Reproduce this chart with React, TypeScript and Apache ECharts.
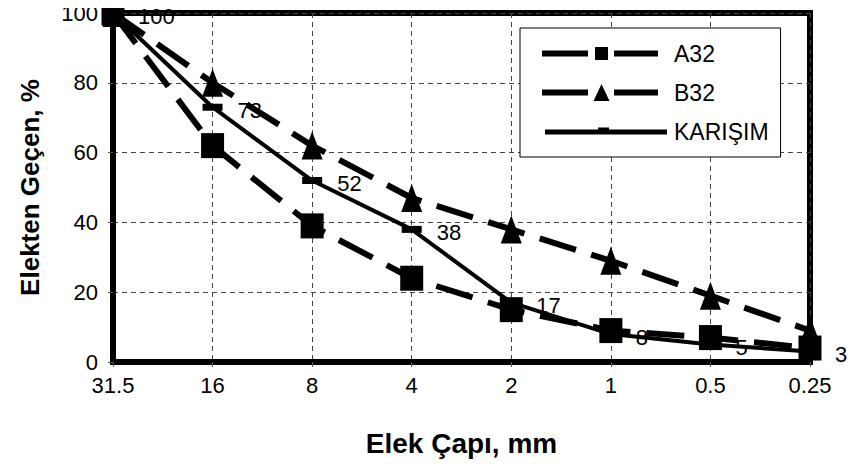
import React, { useEffect, useRef } from "react";
import * as echarts from "echarts";

const categories = ["31.5", "16", "8", "4", "2", "1", "0.5", "0.25"];
const a32 = [100, 62, 39, 24, 15, 9, 7, 4];
const b32 = [100, 80, 62, 47, 38, 29, 19, 9];
const karisim = [100, 73, 52, 38, 17, 8, 5, 3];
const yTicks = { min: 0, max: 100, interval: 20 };

const corners = "M0,0h0.1v0.1h-0.1Z M124.9,17.9h0.1v0.1h-0.1Z ";
const iconA = "path://" + corners + "M0,6H46V12H0Z M53,2.5H66V15.5H53Z M72,6H116V12H72Z";
const iconB = "path://" + corners + "M0,6H46V12H0Z M59.5,0.5L67.5,17.5H51.5Z M72,6H116V12H72Z";
const iconK = "path://" + corners + "M3,7H125V12H3Z M56,5H67V7H56Z";

export default function App() {
  const ref = useRef<HTMLDivElement>(null);
  useEffect(() => {
    if (!ref.current) return;
    const chart = echarts.init(ref.current, null, { renderer: "svg" });
    const font = "Liberation Sans, Arial, sans-serif";
    chart.setOption({
      animation: false,
      backgroundColor: "#ffffff",
      textStyle: { fontFamily: font, color: "#000" },
      grid: {
        left: 113,
        right: 45,
        top: 13,
        bottom: 106,
        show: true,
        borderColor: "#000",
        borderWidth: 6,
        backgroundColor: "transparent",
      },
      legend: {
        left: 520,
        top: 28,
        orient: "vertical",
        backgroundColor: "#fff",
        borderColor: "#000",
        borderWidth: 1,
        borderRadius: 0,
        padding: [14, 12, 14, 22],
        itemGap: 16,
        itemWidth: 125,
        itemHeight: 18,
        textStyle: { fontFamily: font, fontSize: 23, color: "#000", padding: [0, 0, 0, 2] },
        data: [
          { name: "A32", icon: iconA },
          { name: "B32", icon: iconB },
          { name: "KARIŞIM", icon: iconK },
        ],
      },
      xAxis: {
        type: "category",
        data: categories,
        boundaryGap: false,
        name: "Elek Çapı, mm",
        nameLocation: "middle",
        nameGap: 67,
        nameTextStyle: { fontFamily: font, fontSize: 28, fontWeight: "bold", color: "#000" },
        axisLine: { show: true, lineStyle: { color: "#000", width: 6 } },
        axisTick: { show: true, length: 5, lineStyle: { color: "#555", width: 1 } },
        axisLabel: { fontFamily: font, fontSize: 22, color: "#000", margin: 12 },
        splitLine: { show: true, lineStyle: { color: "#444", width: 1, type: [5, 4] } },
      },
      yAxis: {
        type: "value",
        min: yTicks.min,
        max: yTicks.max,
        interval: yTicks.interval,
        name: "Elekten Geçen, %",
        nameLocation: "middle",
        nameGap: 70,
        nameTextStyle: { fontFamily: font, fontSize: 26, fontWeight: "bold", color: "#000" },
        axisLine: { show: true, lineStyle: { color: "#000", width: 6 } },
        axisTick: { show: true, length: 5, lineStyle: { color: "#555", width: 1 } },
        axisLabel: { fontFamily: font, fontSize: 22, color: "#000", margin: 15 },
        splitLine: { show: true, lineStyle: { color: "#444", width: 1, type: [5, 4] } },
      },
      series: [
        {
          name: "A32",
          type: "line",
          data: a32,
          symbol: "rect",
          symbolSize: [23, 25],
          itemStyle: { color: "#000" },
          lineStyle: { color: "#000", width: 6, type: [38, 16] },
        },
        {
          name: "B32",
          type: "line",
          data: b32,
          symbol: "triangle",
          symbolSize: [21, 28],
          itemStyle: { color: "#000" },
          lineStyle: { color: "#000", width: 6, type: [38, 16] },
        },
        {
          name: "KARIŞIM",
          type: "line",
          data: karisim,
          symbol: "rect",
          symbolSize: [20, 7],
          itemStyle: { color: "#000" },
          lineStyle: { color: "#000", width: 4, type: "solid" },
          label: {
            show: true,
            position: "right",
            distance: 15,
            offset: [0, 3],
            fontFamily: font,
            fontSize: 22,
            color: "#000",
          },
        },
      ],
    });
    return () => chart.dispose();
  }, []);
  return <div ref={ref} style={{ width: 855, height: 468, margin: -8 }} />;
}
